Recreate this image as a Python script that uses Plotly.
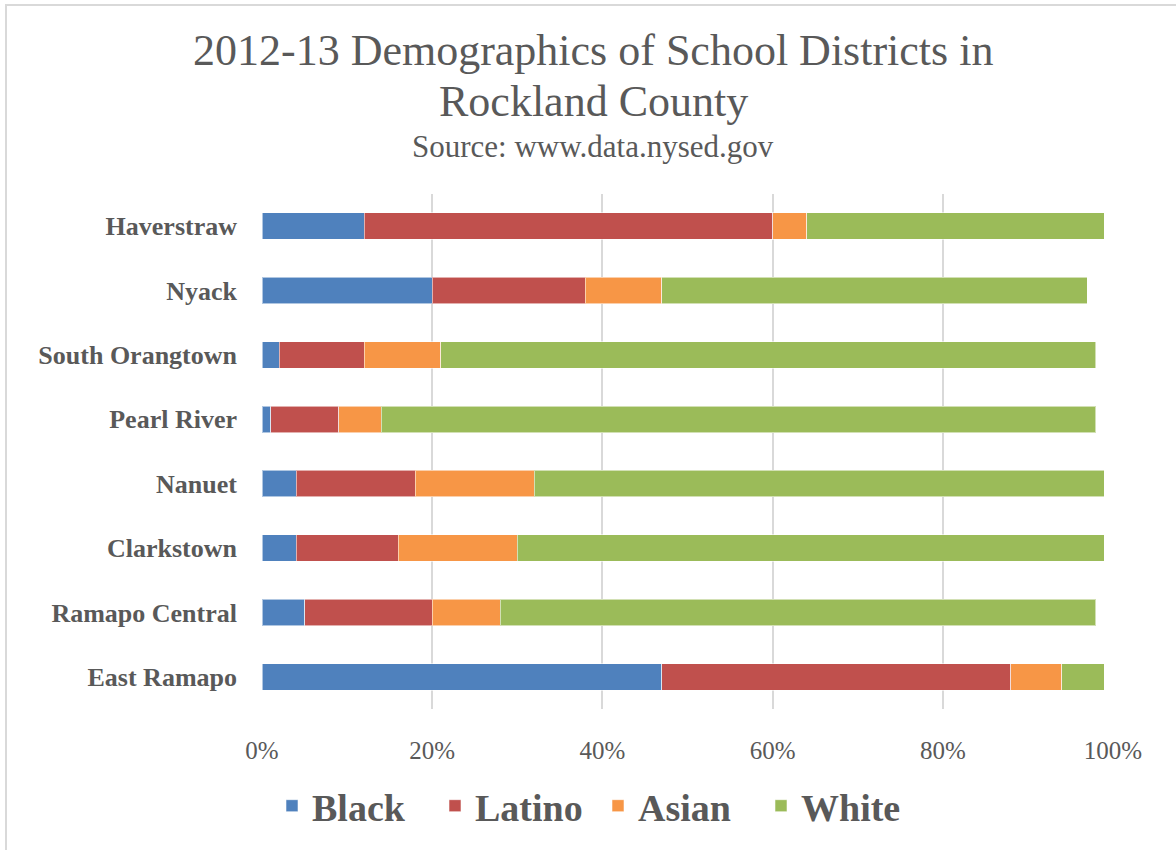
import plotly.graph_objects as go

# School districts, listed bottom to top as drawn on the category axis
districts = ["East Ramapo", "Ramapo Central", "Clarkstown", "Nanuet",
             "Pearl River", "South Orangtown", "Nyack", "Haverstraw"]

# Share of enrollment (%) by group, same order as districts
black = [47, 5, 4, 4, 1, 2, 20, 12]
latino = [41, 15, 12, 14, 8, 10, 18, 48]
asian = [6, 8, 14, 14, 5, 9, 9, 4]
white = [5, 70, 69, 67, 84, 77, 50, 35]

x_ticks = [0, 20, 40, 60, 80, 100]
x_tick_labels = ["0%", "20%", "40%", "60%", "80%", "100%"]

series = [
    ("Black", black, "#4F81BD"),
    ("Latino", latino, "#C0504D"),
    ("Asian", asian, "#F79646"),
    ("White", white, "#9BBB59"),
]

SERIF = "Liberation Serif"
TEXT = "#595959"

W, H = 1176, 850
ML, MR, MT, MB = 262, 63, 194, 141
PW, PH = W - ML - MR, H - MT - MB


def px_x(px):
    return (px - ML) / PW


def px_y(py):
    return (H - MB - py) / PH


fig = go.Figure()
for name, vals, color in series:
    fig.add_trace(go.Bar(
        y=districts, x=vals, name=name, orientation="h",
        marker=dict(color=color, line=dict(color="rgba(255,255,255,0.55)", width=1)),
    ))

fig.update_layout(
    width=W, height=H,
    barmode="stack", bargap=0.59,
    margin=dict(l=ML, r=MR, t=MT, b=MB),
    paper_bgcolor="white", plot_bgcolor="white",
    showlegend=True,
    legend=dict(
        orientation="h", x=px_x(598), y=px_y(806),
        xanchor="center", yanchor="middle",
        font=dict(family=SERIF, size=38, color=TEXT, weight="bold"),
        itemwidth=30, entrywidth=118, traceorder="normal",
    ),
    xaxis=dict(
        range=[0, 100], tickmode="array", tickvals=x_ticks, ticktext=x_tick_labels,
        showgrid=True, gridcolor="#D9D9D9", gridwidth=1.5,
        zeroline=False, showline=False, ticks="",
        tickfont=dict(family=SERIF, size=25, color=TEXT),
        ticklabelstandoff=24,
    ),
    yaxis=dict(
        range=[-0.5, 7.5], showgrid=False, zeroline=False, showline=False,
        ticks="", tickfont=dict(family=SERIF, size=26, color=TEXT, weight="bold"),
        ticklabelstandoff=24,
    ),
    annotations=[
        dict(text="2012-13 Demographics of School Districts in", x=px_x(593), y=px_y(50),
             xref="paper", yref="paper", showarrow=False, xanchor="center", yanchor="middle",
             font=dict(family=SERIF, size=44, color=TEXT)),
        dict(text="Rockland County", x=px_x(593), y=px_y(101),
             xref="paper", yref="paper", showarrow=False, xanchor="center", yanchor="middle",
             font=dict(family=SERIF, size=44, color=TEXT)),
        dict(text="Source: www.data.nysed.gov", x=px_x(593), y=px_y(146),
             xref="paper", yref="paper", showarrow=False, xanchor="center", yanchor="middle",
             font=dict(family=SERIF, size=31, color=TEXT)),
    ],
    shapes=[
        dict(type="rect", xref="paper", yref="paper",
             x0=px_x(6), x1=px_x(W + 10), y0=px_y(H + 10), y1=px_y(5),
             line=dict(color="#D9D9D9", width=2), fillcolor="rgba(0,0,0,0)", layer="below"),
    ],
)

fig.write_html("out.html")
